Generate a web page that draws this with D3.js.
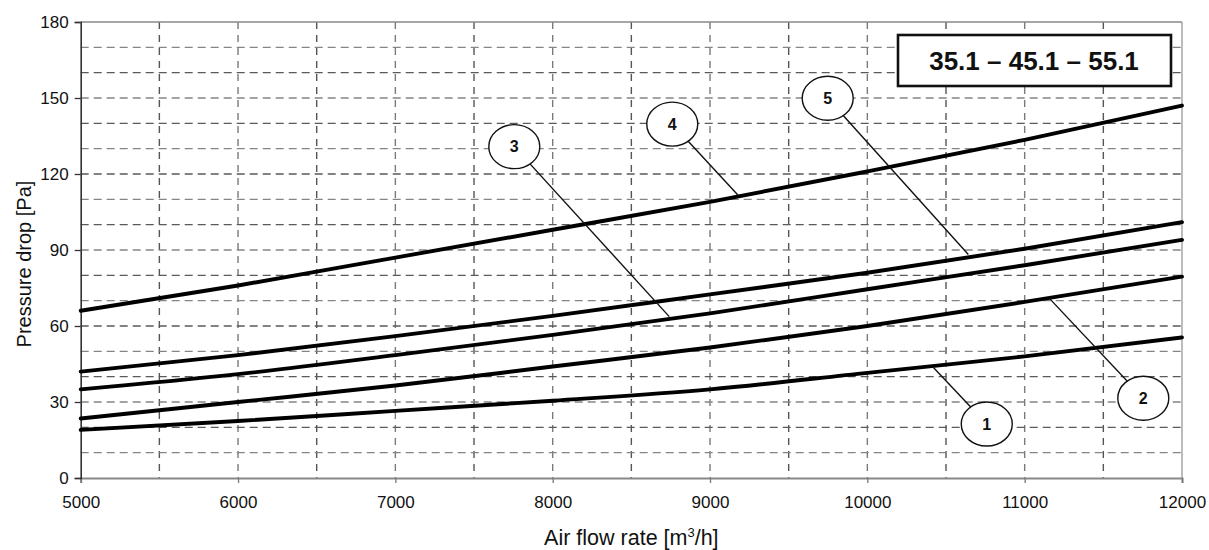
<!DOCTYPE html>
<html>
<head>
<meta charset="utf-8">
<script src="https://cdn.jsdelivr.net/npm/d3@7"></script>
<style>
  body { margin: 0; background: #fff; }
  svg text { font-family: "Liberation Sans", Arial, Helvetica, sans-serif; }
</style>
</head>
<body>
<svg id="chart" width="1209" height="550"></svg>
<script>
// air flow rate [m3/h]
var flowRates = [5000, 6000, 7000, 8000, 9000, 10000, 11000, 12000];

// pressure drop [Pa] for each numbered curve
var curve1 = [19, 22.5, 26.5, 30.5, 35, 41.5, 48, 55.5];
var curve2 = [23.5, 30, 36.5, 44, 51.5, 60, 69.5, 79.5];
var curve3 = [35, 41, 48.5, 56.5, 65, 74.5, 84, 94];
var curve4 = [66, 76, 87, 98, 109, 121, 133.5, 147];
var curve5 = [42, 48.5, 56, 64, 72.5, 81, 90.5, 101];

var seriesNames = ["1", "2", "3", "4", "5"];
var seriesValues = [curve1, curve2, curve3, curve4, curve5];

var yTicks = [0, 30, 60, 90, 120, 150, 180];
var xTicks = [5000, 6000, 7000, 8000, 9000, 10000, 11000, 12000];

// callout bubble positions and where their leader touches the curve (data units)
var calloutLabels = ["1", "2", "3", "4", "5"];
var calloutCenterX = [10759, 11754, 7756, 8760, 9748];
var calloutCenterY = [21.3, 31.5, 130.8, 139.7, 149.9];
var calloutTargetX = [10420, 11157, 8741, 9180, 10642];
var calloutTargetY = [43.6, 70.9, 63.7, 111.5, 88.2];

var titleText = "35.1 \u2013 45.1 \u2013 55.1";

var svg = d3.select("#chart");
var margin = {top: 22, right: 27, bottom: 72, left: 80.7};
var width = 1209 - margin.left - margin.right;
var height = 550 - margin.top - margin.bottom;

var chartGroup = svg.append("g")
  .attr("transform", `translate(${margin.left}, ${margin.top})`);

var xScale = d3.scaleLinear().domain([5000, 12000]).range([0, width]);
var yScale = d3.scaleLinear().domain([0, 180]).range([height, 0]);

// dashed grid: every 500 m3/h and every 10 Pa
var xGrid = d3.range(5500, 12000, 500);
var yGrid = d3.range(10, 180, 10);

chartGroup.selectAll(".vgrid")
  .data(xGrid)
  .enter()
  .append("line")
  .attr("x1", d => xScale(d))
  .attr("x2", d => xScale(d))
  .attr("y1", 0)
  .attr("y2", height)
  .attr("stroke", (d, i) => i % 2 === 0 ? "#555" : "#7a7a7a")
  .attr("stroke-width", 1.4)
  .attr("stroke-dasharray", "7,6");

chartGroup.selectAll(".hgrid")
  .data(yGrid)
  .enter()
  .append("line")
  .attr("x1", 0)
  .attr("x2", width)
  .attr("y1", d => yScale(d))
  .attr("y2", d => yScale(d))
  .attr("stroke", d => d % 20 === 0 ? "#5a5a5a" : "#858585")
  .attr("stroke-width", 1.4)
  .attr("stroke-dasharray", "8,5");

// frame: top and right in grey
chartGroup.append("line")
  .attr("x1", 0).attr("x2", width)
  .attr("y1", 0).attr("y2", 0)
  .attr("stroke", "#888").attr("stroke-width", 1.3);
chartGroup.append("line")
  .attr("x1", width).attr("x2", width)
  .attr("y1", 0).attr("y2", height)
  .attr("stroke", "#999").attr("stroke-width", 1.3);

// axes
var bottomAxis = d3.axisBottom(xScale)
  .tickValues(xTicks)
  .tickSize(5)
  .tickPadding(13)
  .tickFormat(d3.format("d"));
var leftAxis = d3.axisLeft(yScale)
  .tickValues(yTicks)
  .tickSize(6)
  .tickPadding(6);

var xAxis = chartGroup.append("g")
  .attr("transform", `translate(0, ${height})`)
  .call(bottomAxis);
xAxis.select(".domain").attr("stroke", "#888").attr("stroke-width", 2);
xAxis.selectAll(".tick line").attr("stroke", "#777").attr("stroke-width", 1.3);
xAxis.selectAll("text").attr("font-size", 17).attr("fill", "#111");

var yAxis = chartGroup.append("g").call(leftAxis);
yAxis.select(".domain").attr("stroke", "#333").attr("stroke-width", 1.6);
yAxis.selectAll(".tick line").attr("stroke", "#333").attr("stroke-width", 1.3);
yAxis.selectAll("text").attr("font-size", 17).attr("fill", "#111");

// curves
var line = d3.line()
  .x((d, i) => xScale(flowRates[i]))
  .y(d => yScale(d))
  .curve(d3.curveMonotoneX);

chartGroup.selectAll(".curve")
  .data(seriesValues)
  .enter()
  .append("path")
  .attr("class", "curve")
  .attr("d", d => line(d))
  .attr("fill", "none")
  .attr("stroke", "#000")
  .attr("stroke-width", 3.9)
  .attr("stroke-linecap", "round");

// callouts: leader line then bubble
var callouts = calloutLabels.map((lab, i) => ({
  label: lab,
  cx: calloutCenterX[i], cy: calloutCenterY[i],
  tx: calloutTargetX[i], ty: calloutTargetY[i]
}));

var calloutGroup = chartGroup.selectAll(".callout")
  .data(callouts)
  .enter()
  .append("g")
  .attr("class", "callout");

calloutGroup.append("line")
  .attr("x1", d => xScale(d.cx))
  .attr("y1", d => yScale(d.cy))
  .attr("x2", d => xScale(d.tx))
  .attr("y2", d => yScale(d.ty))
  .attr("stroke", "#111")
  .attr("stroke-width", 1.4);

calloutGroup.append("ellipse")
  .attr("cx", d => xScale(d.cx))
  .attr("cy", d => yScale(d.cy))
  .attr("rx", 25.5)
  .attr("ry", 22)
  .attr("fill", "#fff")
  .attr("stroke", "#111")
  .attr("stroke-width", 1.4);

calloutGroup.append("text")
  .attr("x", d => xScale(d.cx))
  .attr("y", d => yScale(d.cy))
  .attr("dy", "0.36em")
  .attr("text-anchor", "middle")
  .attr("font-size", 16)
  .attr("font-weight", "bold")
  .attr("fill", "#111")
  .text(d => d.label);

// title box in the upper right
var boxGroup = svg.append("g");
boxGroup.append("rect")
  .attr("x", 898)
  .attr("y", 35)
  .attr("width", 273)
  .attr("height", 51)
  .attr("fill", "#fff")
  .attr("stroke", "#111")
  .attr("stroke-width", 2.6);
boxGroup.append("text")
  .attr("x", 1034)
  .attr("y", 70)
  .attr("text-anchor", "middle")
  .attr("font-size", 26)
  .attr("font-weight", "bold")
  .attr("fill", "#111")
  .text(titleText);

// axis titles
svg.append("text")
  .attr("transform", "translate(31, 264) rotate(-90)")
  .attr("text-anchor", "middle")
  .attr("font-size", 20)
  .attr("fill", "#111")
  .text("Pressure drop  [Pa]");

var xTitle = svg.append("text")
  .attr("x", margin.left + width / 2)
  .attr("y", 545)
  .attr("text-anchor", "middle")
  .attr("font-size", 21.5)
  .attr("fill", "#111");
xTitle.append("tspan").text("Air flow rate [m");
xTitle.append("tspan").attr("font-size", 13).attr("dy", -8).text("3");
xTitle.append("tspan").attr("dy", 8).text("/h]");
</script>
</body>
</html>
